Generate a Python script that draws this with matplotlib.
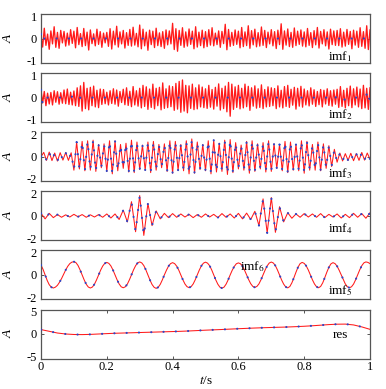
import numpy as np
import matplotlib
matplotlib.use("Agg")
import matplotlib.pyplot as plt
from matplotlib.transforms import ScaledTranslation

plt.rcParams["font.family"] = ["Liberation Serif", "DejaVu Serif"]
plt.rcParams["mathtext.fontset"] = "stix"
plt.rcParams["axes.unicode_minus"] = False

# imf1: high-frequency noise component (sampled every 0.005 s)
imf1 = [
    0.12, -0.35, 0.42, -0.28, 0.18, -0.44, 0.31, -0.22, 0.48, -0.36, 0.25, -0.40, 0.33, -0.18, 0.29, -0.31, 0.22, -0.27, 0.36, -0.20,
    0.30, -0.38, 0.45, -0.25, 0.20, -0.33, 0.41, -0.29, 0.26, -0.47, 0.35, -0.21, 0.19, -0.30, 0.38, -0.24, 0.28, -0.36, 0.22, -0.18,
    0.25, -0.32, 0.40, -0.43, 0.30, -0.26, 0.50, -0.35, 0.27, -0.22, 0.33, -0.39, 0.24, -0.28, 0.37, -0.31, 0.46, -0.27, 0.21, -0.34,
    0.55, -0.42, 0.38, -0.30, 0.26, -0.48, 0.34, -0.25, 0.30, -0.37, 0.42, -0.29, 0.23, -0.33, 0.28, -0.40, 0.35, -0.26, 0.31, -0.22,
    0.62, -0.45, 0.40, -0.52, 0.33, -0.28, 0.44, -0.36, 0.27, -0.31, 0.39, -0.24, 0.30, -0.42, 0.48, -0.35, 0.26, -0.29, 0.34, -0.38,
    0.28, -0.33, 0.36, -0.27, 0.44, -0.30, 0.22, -0.25, 0.31, -0.36, 0.29, -0.21, 0.58, -0.46, 0.37, -0.32, 0.25, -0.28, 0.35, -0.24,
    0.30, -0.38, 0.45, -0.33, 0.27, -0.29, 0.52, -0.40, 0.32, -0.26, 0.38, -0.34, 0.24, -0.31, 0.47, -0.28, 0.33, -0.37, 0.26, -0.22,
    0.36, -0.30, 0.28, -0.41, 0.34, -0.25, 0.60, -0.44, 0.31, -0.27, 0.39, -0.33, 0.25, -0.36, 0.43, -0.29, 0.30, -0.24, 0.35, -0.31,
    0.27, -0.34, 0.41, -0.28, 0.24, -0.37, 0.32, -0.26, 0.45, -0.39, 0.29, -0.22, 0.36, -0.30, 0.27, -0.43, 0.38, -0.25, 0.31, -0.28,
    0.33, -0.29, 0.40, -0.35, 0.26, -0.31, 0.37, -0.24, 0.29, -0.42, 0.34, -0.27, 0.30, -0.36, 0.44, -0.32, 0.28, -0.40, 0.52, -0.45, 0.35,
]

# imf2: bursty noise component (sampled every 0.005 s)
imf2 = [
    0.30, -0.22, 0.25, -0.33, 0.18, -0.26, 0.21, -0.30, 0.28, -0.19, 0.24, -0.27, 0.20, -0.23, 0.31, -0.25, 0.35, -0.28, 0.22, -0.30,
    0.27, -0.33, 0.40, -0.36, 0.48, -0.55, 0.62, -0.45, 0.38, -0.50, 0.42, -0.33, 0.47, -0.38, 0.30, -0.41, 0.35, -0.28, 0.33, -0.25,
    0.22, -0.30, 0.28, -0.24, 0.36, -0.27, 0.31, -0.35, 0.25, -0.20, 0.34, -0.29, 0.40, -0.32, 0.26, -0.37, 0.45, -0.30, 0.28, -0.35,
    0.38, -0.42, 0.50, -0.36, 0.44, -0.48, 0.35, -0.40, 0.55, -0.46, 0.38, -0.33, 0.42, -0.50, 0.60, -0.44, 0.36, -0.41, 0.48, -0.37,
    0.45, -0.52, 0.58, -0.47, 0.66, -0.60, 0.72, -0.55, 0.50, -0.62, 0.48, -0.44, 0.55, -0.49, 0.40, -0.46, 0.52, -0.38, 0.43, -0.41,
    0.36, -0.44, 0.50, -0.39, 0.33, -0.47, 0.42, -0.35, 0.56, -0.51, 0.38, -0.45, 0.47, -0.58, 0.62, -0.76, 0.55, -0.48, 0.44, -0.40,
    0.50, -0.46, 0.38, -0.42, 0.55, -0.37, 0.46, -0.52, 0.40, -0.35, 0.48, -0.43, 0.36, -0.40, 0.52, -0.45, 0.33, -0.38, 0.44, -0.36,
    0.40, -0.33, 0.37, -0.45, 0.48, -0.38, 0.30, -0.42, 0.45, -0.36, 0.50, -0.40, 0.34, -0.31, 0.42, -0.47, 0.38, -0.35, 0.46, -0.39,
    0.35, -0.30, 0.28, -0.34, 0.40, -0.27, 0.32, -0.36, 0.25, -0.29, 0.33, -0.38, 0.30, -0.26, 0.36, -0.32, 0.28, -0.35, 0.31, -0.27,
    0.34, -0.40, 0.45, -0.36, 0.30, -0.42, 0.38, -0.33, 0.47, -0.41, 0.36, -0.30, 0.43, -0.38, 0.35, -0.45, 0.50, -0.42, 0.38, -0.48, 0.40,
]

# true components for the two noise panels (nearly zero)
t_true1 = [0.0, 0.004, 0.01, 0.99, 1.0]
true1 = [0.18, -0.15, 0.0, 0.0, 0.12]
t_true2 = [0.0, 0.005, 0.012, 0.09, 0.1, 0.11, 0.12, 0.87, 0.885, 0.9, 0.915, 0.93, 0.985, 0.995, 1.0]
true2 = [0.32, -0.28, 0.0, 0.0, 0.1, -0.1, 0.0, 0.0, -0.14, 0.06, -0.16, 0.0, 0.0, 0.28, -0.3]

# imf3: half-cycle extremes of the ~60 Hz component (every 1/120 s)
imf3 = [
    0.00, 0.35, -0.30, 0.38, -0.32, 0.30, -0.36, 0.33, -0.28, 0.35, -0.30, 0.32,
    -1.10, 1.20, -1.00, 1.25, -1.15, 1.30, -1.10, 1.35, -1.20, 1.00,
    -0.90, 1.05, -1.20, 1.30, -1.40, 1.30, -1.15, 1.00, -0.95, 1.10,
    -1.25, 1.35, -1.30, 1.20, -1.05, 0.95, -1.10, 1.20, -1.30, 1.25,
    -1.10, 1.00, -0.90, 1.05, -1.20, 1.30, -1.35, 1.25, -1.10, 1.00,
    -1.15, 1.30, -1.40, 1.45, -1.35, 1.20, -1.05, 1.00, -1.15, 1.30,
    -1.40, 1.35, -1.25, 1.10, -1.20, 1.35, -1.45, 1.40, -1.30, 1.15,
    -1.00, 0.95, -1.10, 1.25, -1.35, 1.30, -1.20, 1.05, -1.00, 1.15,
    -1.25, 1.30, -1.20, 1.05, -0.95, 1.00, -1.15, 1.25, -1.30, 1.20,
    -1.10, 1.00, -1.15, 1.30, -1.35, 1.25, -1.10, 1.00, -1.10, 1.20,
    -1.15, 1.05, -0.95, 0.90, -0.80, 0.60, -0.45,
    0.30, -0.35, 0.25, -0.30, 0.28, -0.33, 0.25, -0.30, 0.35, -0.28, 0.30, -0.20,
]

# imf4: two wave packets (every 0.0125 s)
imf4 = [
    0.20, -0.25, 0.20, -0.15, 0.10, -0.12, 0.08, -0.10, 0.12, -0.08,
    0.10, -0.12, 0.08, -0.10, 0.10, -0.12, 0.15, -0.18, 0.15, -0.30,
    0.46, -0.50, 1.15, -1.30, 1.65, -1.60, 1.00, -0.80, 0.40, -0.25,
    0.20, -0.15, 0.18, -0.12, 0.15, -0.10, 0.12, -0.15, 0.10, -0.12,
    0.15, -0.10, 0.12, -0.15, 0.18, -0.12, 0.15, -0.18, 0.20, -0.25,
    0.22, -0.30, 0.37, -0.80, 1.38, -1.40, 1.49, -1.35, 0.74, -0.50,
    0.25, -0.20, 0.15, -0.12, 0.18, -0.10, 0.15, -0.12, 0.18, -0.15,
    0.12, -0.10, 0.15, -0.18, 0.12, -0.15, 0.20, -0.12, 0.18, -0.20,
    0.25,
]

# imf5: ~10 Hz component (every 0.00625 s)
imf5 = [
    0.80, 0.45, 0.00, -0.45, -0.80, -1.00, -1.07,
    -1.00, -0.85, -0.60, -0.30, 0.05, 0.40, 0.70, 0.92, 1.04, 1.08,
    1.00, 0.77, 0.41, 0.00, -0.41, -0.76, -0.99, -1.07,
    -0.99, -0.76, -0.41, 0.00, 0.39, 0.72, 0.94, 1.02,
    0.94, 0.73, 0.40, 0.00, -0.40, -0.74, -0.97, -1.05,
    -0.97, -0.75, -0.40, 0.00, 0.41, 0.75, 0.98, 1.06,
    0.98, 0.76, 0.41, 0.00, -0.42, -0.78, -1.01, -1.10,
    -1.01, -0.77, -0.41, 0.00, 0.38, 0.71, 0.92, 1.00,
    0.92, 0.71, 0.39, 0.00, -0.40, -0.74, -0.96, -1.04,
    -0.96, -0.74, -0.40, 0.00, 0.40, 0.74, 0.96, 1.04,
    0.96, 0.75, 0.41, 0.00, -0.41, -0.76, -1.00, -1.08,
    -1.00, -0.76, -0.41, 0.00, 0.38, 0.69, 0.91, 0.98,
    0.91, 0.70, 0.38, 0.00, -0.39, -0.72, -0.94, -1.02,
    -0.94, -0.73, -0.39, 0.00, 0.40, 0.74, 0.97, 1.05,
    0.97, 0.75, 0.40, 0.00, -0.41, -0.75, -0.98, -1.06,
    -0.95, -0.65, -0.23, 0.22, 0.63, 0.92, 1.02,
    0.94, 0.73, 0.40, 0.00, -0.40, -0.74, -0.97, -1.05,
    -0.94, -0.65, -0.23, 0.22, 0.62, 0.90, 1.00,
    0.92, 0.71, 0.38, 0.00, -0.40, -0.74, -0.97, -1.05,
    -0.97, -0.75, -0.40, 0.00, 0.41, 0.75, 0.98, 1.06,
    1.02, 0.92,
]

# residual trend (every 0.025 s)
res = [
    0.90, 0.55, 0.20, 0.00, -0.10, -0.12, -0.08, 0.00, 0.08, 0.15,
    0.20, 0.25, 0.30, 0.35, 0.40, 0.45, 0.50, 0.55, 0.62, 0.70,
    0.78, 0.85, 0.92, 1.00, 1.08, 1.15, 1.22, 1.28, 1.33, 1.38,
    1.43, 1.50, 1.58, 1.68, 1.80, 1.92, 2.00, 2.02, 1.85, 1.45,
    0.95,
]

ylims = [1, 1, 2, 2, 2, 5]
labels = ["imf$_1$", "imf$_2$", "imf$_3$", "imf$_4$", "imf$_5$", "res"]
label_pos = [(0.91, 0.06), (0.91, 0.08), (0.91, 0.09), (0.91, 0.16), (0.91, 0.11), (0.91, 0.41)]

red_series = [imf1, imf2, imf3, imf4, imf5, res]
true_series = [
    (t_true1, true1),
    (t_true2, true2),
    (None, imf3),
    (None, imf4),
    (None, imf5),
    (None, res),
]

W, H = 386, 389
fig = plt.figure(figsize=(W / 100, H / 100), dpi=100)
fig.patch.set_facecolor("white")

left, right = 41, 370
ax_h, step, top0 = 49, 59.1, 14
frame_col = "#555555"
fs = 9

for i in range(6):
    top = top0 + i * step
    ax = fig.add_axes([left / W, 1 - (top + ax_h) / H, (right - left) / W, ax_h / H])
    y = np.array(red_series[i])
    t = np.linspace(0, 1, len(y))
    lw_red = 0.95 if i < 2 else 0.75
    ax.plot(t, y, color="#ff1a1a", lw=lw_red, zorder=2)

    tt, yt = true_series[i]
    yt = np.array(yt)
    tt = np.linspace(0, 1, len(yt)) if tt is None else np.array(tt)
    ax.plot(tt, yt, color="#2b45c8", lw=1.5, linestyle=(0, (0.1, 5.8)),
            dash_capstyle="round", zorder=3)

    lim = ylims[i]
    ax.set_xlim(0, 1)
    ax.set_ylim(-lim, lim)
    ax.set_yticks([-lim, 0, lim])
    ax.set_yticklabels([str(-lim), "0", str(lim)])
    ax.tick_params(direction="in", length=2.5, width=0.7, colors=frame_col,
                   labelcolor="black", labelsize=fs, pad=3,
                   left=True, right=True)
    # nudge the end labels inward a little so neighbouring panels don't collide
    tl = ax.get_yticklabels()
    tl[0].set_transform(tl[0].get_transform() + ScaledTranslation(0, 1.6 / 72, fig.dpi_scale_trans))
    tl[2].set_transform(tl[2].get_transform() + ScaledTranslation(0, -1.6 / 72, fig.dpi_scale_trans))
    for sp in ax.spines.values():
        sp.set_color(frame_col)
        sp.set_linewidth(0.9)
    ax.set_ylabel("A", fontsize=fs + 0.5, style="italic")
    ax.yaxis.set_label_coords(-0.08, 0.5)

    lx, ly = label_pos[i]
    ax.text(lx, ly, labels[i], transform=ax.transAxes, ha="center",
            va="baseline", fontsize=fs + 0.5)
    if i == 4:
        ax.text(0.643, 0.6, "imf$_6$", transform=ax.transAxes, ha="center",
                va="baseline", fontsize=fs + 0.5)

    if i < 5:
        ax.set_xticks([])
    else:
        ax.set_xticks([0, 0.2, 0.4, 0.6, 0.8, 1])
        ax.set_xticklabels(["0", "0.2", "0.4", "0.6", "0.8", "1"])
        ax.tick_params(axis="x", top=True, bottom=True, pad=2)
        ax.set_xlabel("$t$/s", fontsize=fs + 0.5, labelpad=1)

fig.savefig("out.png", dpi=100)
